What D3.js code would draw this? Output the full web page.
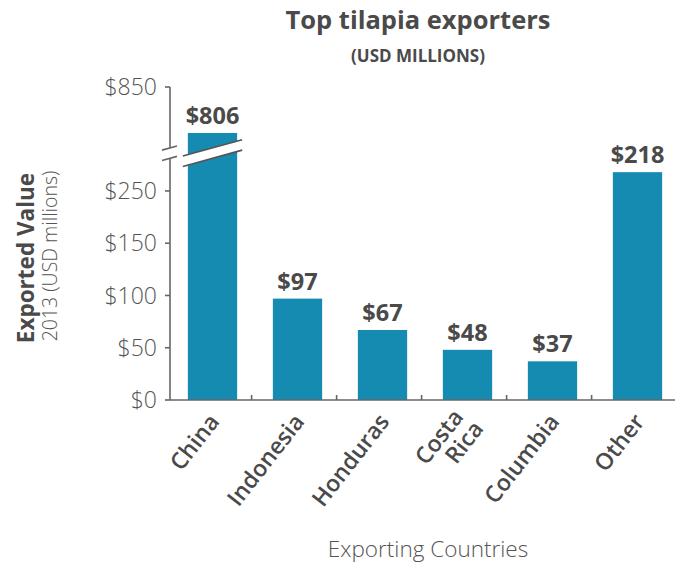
<!DOCTYPE html>
<html>
<head>
<meta charset="utf-8">
<script src="https://cdn.jsdelivr.net/npm/d3@7"></script>
<style>
  body { margin: 0; background: #fff; }
  svg { display: block; }
  text { font-family: "Open Sans", Lato, sans-serif; }
</style>
</head>
<body>
<svg id="chart" width="675" height="567"></svg>
<script>
const countries = ["China", "Indonesia", "Honduras", "Costa Rica", "Columbia", "Other"];
const exportValues = [806, 97, 67, 48, 37, 218];
const valueLabels = ["$806", "$97", "$67", "$48", "$37", "$218"];
const tickValues = [0, 50, 100, 150, 200, 850];
const tickLabels = ["$0", "$50", "$100", "$150", "$250", "$850"];
// values where the y axis is cut
const axisBreak = [230, 793];

const barColor = "#168bb1";
const axisColor = "#666";
const darkText = "#4a4a4a";

const svg = d3.select("#chart");

const x = d3.scaleBand()
    .domain(countries)
    .range([170, 680])
    .paddingInner(0.42)
    .paddingOuter(0.21);

// piecewise scale: the part between the two break values is squeezed to the gap
const y = d3.scaleLinear()
    .domain([0, axisBreak[0], axisBreak[1], 850])
    .range([400, 159.6, 146.6, 87]);

const breakMid = (y(axisBreak[0]) + y(axisBreak[1])) / 2;
const breakHalf = 5.2;
const slope = 0.276;

// title
svg.append("text")
    .attr("x", 418).attr("y", 29)
    .attr("text-anchor", "middle")
    .attr("font-size", 25.5).attr("font-weight", 700)
    .attr("fill", darkText)
    .text("Top tilapia exporters");
svg.append("text")
    .attr("x", 418).attr("y", 62)
    .attr("text-anchor", "middle")
    .attr("font-size", 17).attr("font-weight", 700)
    .attr("fill", darkText)
    .text("(USD MILLIONS)");

// bars
const data = countries.map((c, i) => ({ country: c, value: exportValues[i], label: valueLabels[i] }));

svg.append("g")
    .selectAll("rect")
    .data(data)
    .enter()
    .append("rect")
    .attr("x", d => x(d.country))
    .attr("y", d => y(d.value))
    .attr("width", x.bandwidth())
    .attr("height", d => y(0) - y(d.value))
    .attr("fill", barColor);

// break gap across bars that go past the cut
const broken = data.filter(d => d.value > axisBreak[1]);
broken.forEach(d => {
    const x0 = x(d.country) - 5, x1 = x(d.country) + x.bandwidth() + 5;
    const cx = (x0 + x1) / 2;
    const yAt = (xx, off) => breakMid + off - (xx - cx) * slope;
    svg.append("path")
        .attr("d", `M${x0},${yAt(x0, -breakHalf)}L${x1},${yAt(x1, -breakHalf)}L${x1},${yAt(x1, breakHalf)}L${x0},${yAt(x0, breakHalf)}Z`)
        .attr("fill", "#fff");
    [-breakHalf, breakHalf].forEach(off => {
        svg.append("line")
            .attr("x1", x0).attr("y1", yAt(x0, off))
            .attr("x2", x1).attr("y2", yAt(x1, off))
            .attr("stroke", "#555").attr("stroke-width", 1.6);
    });
});

// value labels
svg.append("g")
    .selectAll("text")
    .data(data)
    .enter()
    .append("text")
    .attr("x", d => x(d.country) + x.bandwidth() / 2)
    .attr("y", d => y(d.value) - 9)
    .attr("text-anchor", "middle")
    .attr("font-size", 23.5).attr("font-weight", 700)
    .attr("fill", darkText)
    .text(d => d.label);

// y axis, split at the break
const ax = x.range()[0];
const axis = svg.append("g").attr("stroke", axisColor).attr("stroke-width", 1.6);
axis.append("line")
    .attr("x1", ax).attr("x2", ax)
    .attr("y1", y(850)).attr("y2", breakMid - breakHalf);
axis.append("line")
    .attr("x1", ax).attr("x2", ax)
    .attr("y1", breakMid + breakHalf).attr("y2", y(0));
[-breakHalf, breakHalf].forEach(off => {
    axis.append("line")
        .attr("x1", ax - 8).attr("y1", breakMid + off + 8 * slope)
        .attr("x2", ax + 7).attr("y2", breakMid + off - 7 * slope);
});

axis.selectAll("line.tick")
    .data(tickValues)
    .enter()
    .append("line")
    .attr("class", "tick")
    .attr("x1", ax - 5).attr("x2", ax)
    .attr("y1", d => y(d)).attr("y2", d => y(d));

svg.append("g")
    .selectAll("text")
    .data(tickValues)
    .enter()
    .append("text")
    .attr("x", ax - 13)
    .attr("y", d => y(d))
    .attr("dy", "0.36em")
    .attr("text-anchor", "end")
    .attr("font-family", "Lato, sans-serif")
    .attr("font-size", 23).attr("font-weight", 300)
    .attr("fill", "#555")
    .text((d, i) => tickLabels[i]);

// x axis
axis.append("line")
    .attr("x1", ax).attr("x2", 675)
    .attr("y1", y(0)).attr("y2", y(0));
axis.selectAll("line.xtick")
    .data(countries.slice(1))
    .enter()
    .append("line")
    .attr("class", "xtick")
    .attr("x1", d => x(d) - x.step() * 0.25).attr("x2", d => x(d) - x.step() * 0.25)
    .attr("y1", y(0) - 5).attr("y2", y(0));

const xLabels = svg.append("g")
    .selectAll("text")
    .data(countries)
    .enter()
    .append("text")
    .attr("transform", d => `translate(${x(d) + x.bandwidth() / 2 + 8},${y(0) + 22}) rotate(-52)`)
    .attr("text-anchor", "end")
    .attr("font-size", 23).attr("font-weight", 600)
    .attr("fill", darkText);

xLabels.each(function (d) {
    const words = d.split(" ");
    const t = d3.select(this);
    words.forEach((w, i) => {
        t.append("tspan")
            .attr("x", i === 0 ? -(words.length - 1) * 3 : 0)
            .attr("dy", i === 0 ? `${-(words.length - 1) * 0.5}em` : "1em")
            .text(w);
    });
});

// axis titles
svg.append("text")
    .attr("transform", "translate(34,258) rotate(-90)")
    .attr("text-anchor", "middle")
    .attr("font-family", "Lato, sans-serif")
    .attr("font-size", 22.5).attr("font-weight", 700)
    .attr("fill", darkText)
    .text("Exported Value");
svg.append("text")
    .attr("transform", "translate(57,256) rotate(-90)")
    .attr("text-anchor", "middle")
    .attr("font-size", 19.5).attr("font-weight", 300)
    .attr("fill", "#555")
    .text("2013 (USD millions)");

svg.append("text")
    .attr("x", 428).attr("y", 557)
    .attr("text-anchor", "middle")
    .attr("font-size", 22.5).attr("font-weight", 300)
    .attr("fill", "#555")
    .text("Exporting Countries");
</script>
</body>
</html>
